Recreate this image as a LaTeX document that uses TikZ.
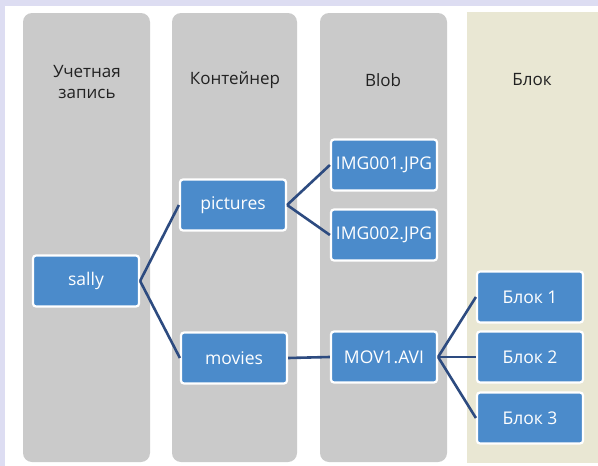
\documentclass[tikz,border=0pt]{standalone}
\usepackage{fontspec}
\setmainfont{Open Sans}
\definecolor{lav}{HTML}{DDDDF2}
\definecolor{colgray}{HTML}{CACACA}
\definecolor{beige}{HTML}{E9E7D3}
\definecolor{boxblue}{HTML}{4B8BCB}
\definecolor{linkblue}{HTML}{2D4B80}
\definecolor{txt}{HTML}{222222}
\tikzset{
  column/.style={fill=colgray, draw=none, rounded corners=9pt},
  header/.style={text=txt, font=\fontsize{17}{21}\selectfont, align=center},
  item/.style={fill=boxblue, draw=white, line width=2.2pt, rounded corners=3pt,
    minimum width=106pt, minimum height=51pt, text=white, font=\fontsize{17.5}{21}\selectfont, inner sep=0pt},
  link/.style={draw=linkblue, line width=2.6pt}
}
\begin{document}
\begin{tikzpicture}[x=1pt,y=-1pt]
\useasboundingbox (0,0) rectangle (598,466);
\fill[lav] (0,0) rectangle (598,466);
\fill[white] (5,6) rectangle (598,466);
% columns
\fill[column] (23,13) rectangle (150,462);
\fill[column] (172,13) rectangle (297,462);
\fill[column] (320,13) rectangle (447,462);
\fill[beige] (467,12) rectangle (598,463);
% headers
\node[header] (h1) at (87,82) {Учетная\\запись};
\node[header] (h2) at (235,80) {Контейнер};
\node[header] (h3) at (383,80) {Blob};
\node[header] (h4) at (532,80) {Блок};
% items
\node[item] (sally) at (86,281) {sally};
\node[item] (pictures) at (233,205) {pictures};
\node[item] (movies) at (234,358) {movies};
\node[item] (img1) at (384,165) {IMG001.JPG};
\node[item] (img2) at (384,235) {IMG002.JPG};
\node[item] (mov) at (384,357) {MOV1.AVI};
\node[item] (b1) at (530,297) {Блок 1};
\node[item] (b2) at (530,357) {Блок 2};
\node[item] (b3) at (530,418) {Блок 3};
% links
\draw[link] (sally.east) -- (pictures.west);
\draw[link] (sally.east) -- (movies.west);
\draw[link] (pictures.east) -- (img1.west);
\draw[link] (pictures.east) -- (img2.west);
\draw[link] (movies.east) -- (mov.west);
\draw[link] (mov.east) -- (b1.west);
\draw[link] (mov.east) -- (b2.west);
\draw[link] (mov.east) -- (b3.west);
\end{tikzpicture}
\end{document}
